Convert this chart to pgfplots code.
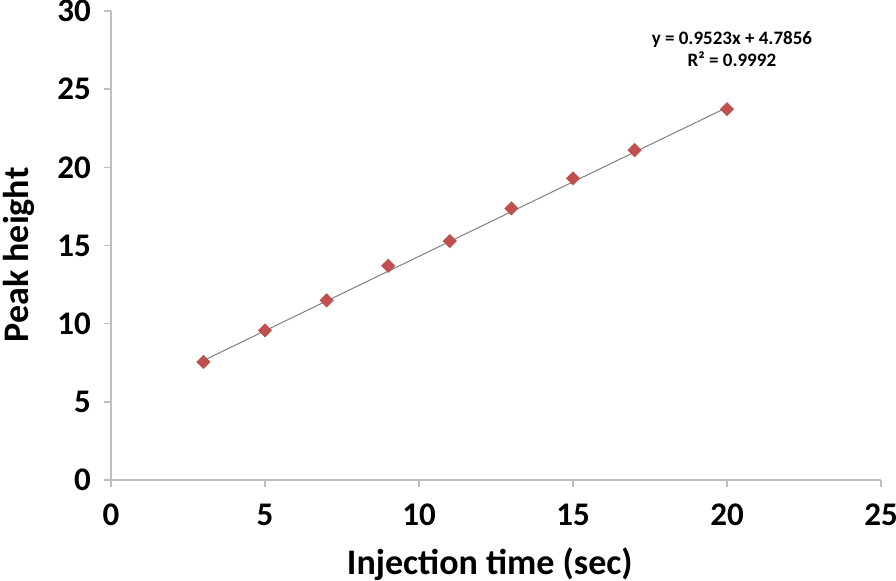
\documentclass[border=0pt]{standalone}
\usepackage{fontspec}
\setmainfont{Carlito}
\usepackage{pgfplots}
\pgfplotsset{compat=1.18}
\definecolor{mk}{HTML}{C0504D}
\definecolor{ax}{HTML}{BFBFBF}
\begin{document}
\begin{tikzpicture}
\useasboundingbox (-55.5pt,-50.5pt) rectangle (392.5pt,240pt);
\begin{axis}[at={(0,0)}, anchor=south west, scale only axis,
  width=385pt, height=234.5pt,
  xmin=0, xmax=25, ymin=0, ymax=30,
  xtick={0,5,...,25}, ytick={0,5,...,30},
  axis lines*=left,
  axis line style={ax, line width=0.8pt},
  tick style={ax, line width=0.8pt},
  tick align=outside, major tick length=3.5pt,
  /pgf/number format/assume math mode=true,
  ticklabel style={font=\fontsize{16.5}{19}\selectfont\bfseries},
  yticklabel style={xshift=-3pt},
  xticklabel style={yshift=-5pt},
  xlabel={Injection time (sec)}, ylabel={Peak height},
  xlabel style={font=\fontsize{18}{21}\selectfont\bfseries, at={(rel axis cs:0.492,0)}, anchor=base, yshift=-47.5pt},
  ylabel style={font=\fontsize{18}{21}\selectfont\bfseries, at={(rel axis cs:0,0.48)}, anchor=base, yshift=41pt},
  clip=false]
\addplot[color=gray, line width=0.5pt] coordinates {(3,7.64) (20,23.83)};
\addplot[only marks, mark=square*, mark size=2.3pt, mark options={rotate=45, fill=mk, draw=mk}] coordinates {
(3,7.55) (5,9.57) (7,11.49) (9,13.70) (11,15.28) (13,17.37) (15,19.29) (17,21.10) (20,23.72)};
\node[anchor=base, font=\fontsize{9.5}{11}\selectfont\bfseries] at (axis cs:20.16,27.83) {y = 0.9523x + 4.7856};
\node[anchor=base, font=\fontsize{9.5}{11}\selectfont\bfseries] at (axis cs:20.16,26.42) {R² = 0.9992};
\end{axis}
\end{tikzpicture}
\end{document}
